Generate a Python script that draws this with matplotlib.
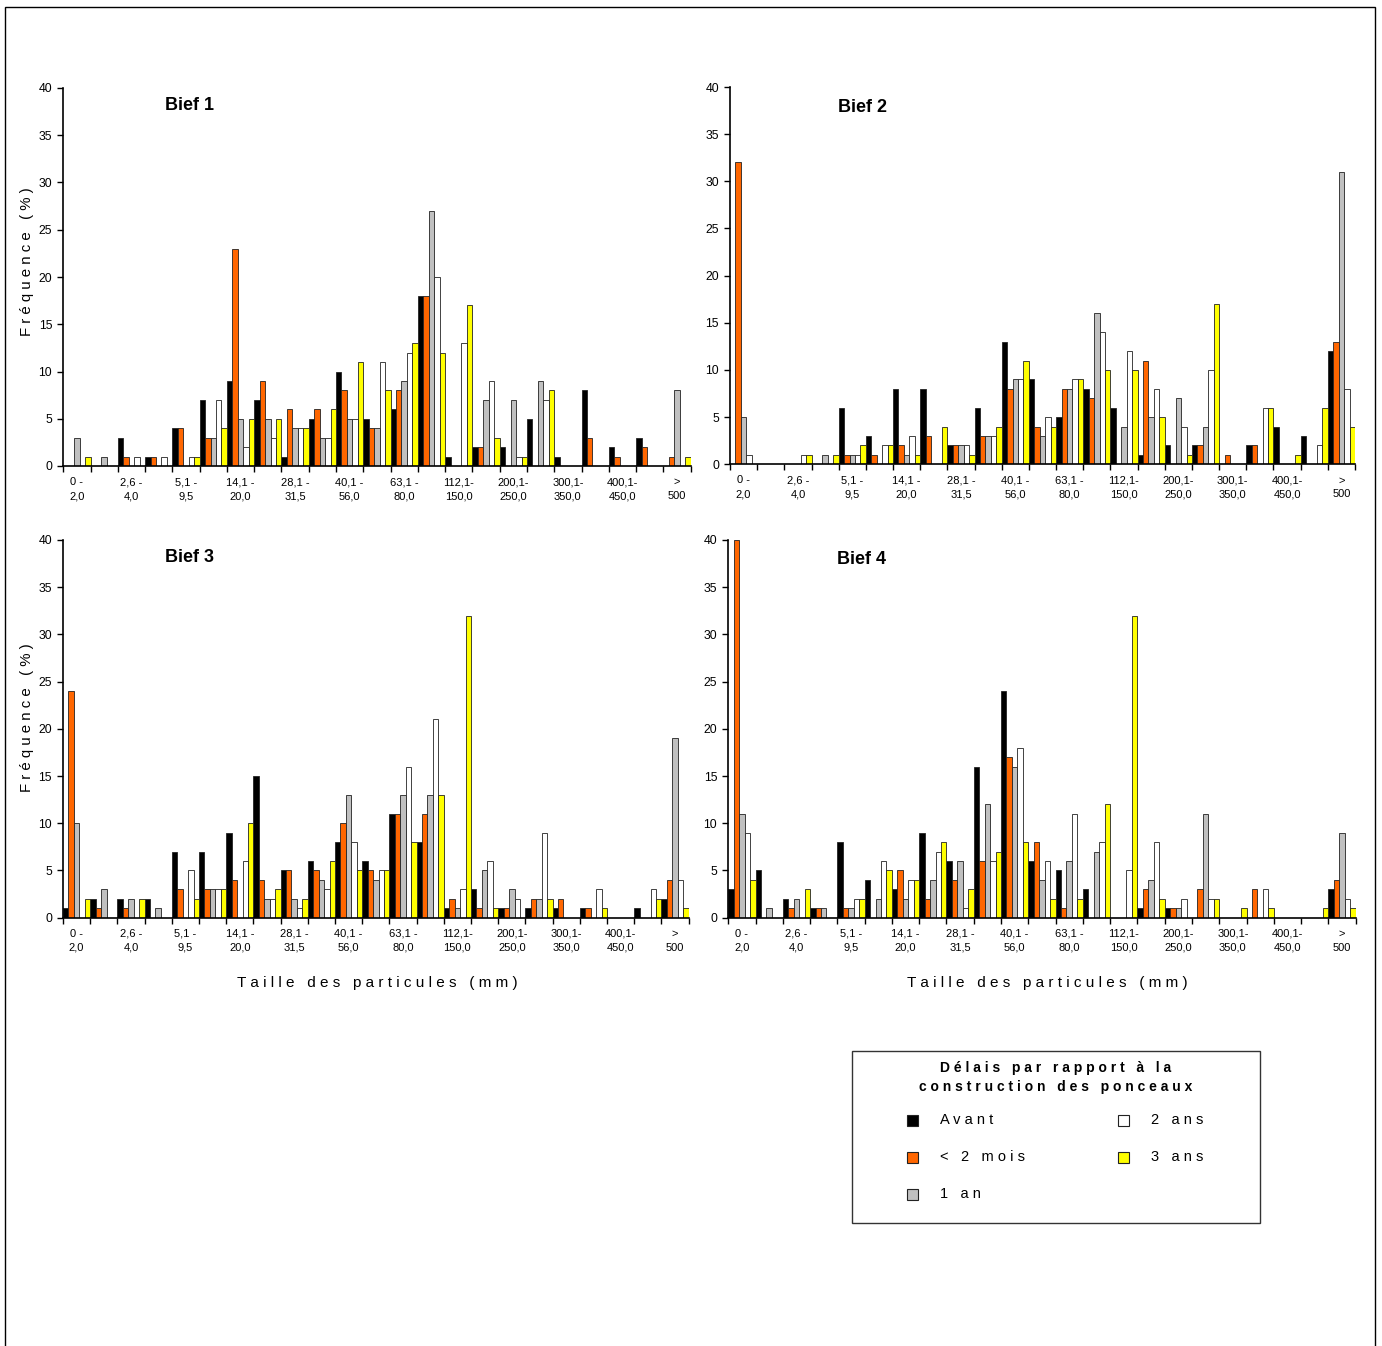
import numpy as np
import matplotlib.pyplot as plt
from matplotlib.patches import Rectangle

plt.rcParams['font.family'] = ['Liberation Sans', 'DejaVu Sans']

W, H = 1382, 1346

# classes de taille (une sur deux est etiquetee)
tick_labels = ['0 -\n2,0', '', '2,6 -\n4,0', '', '5,1 -\n9,5', '', '14,1 -\n20,0', '',
               '28,1 -\n31,5', '', '40,1 -\n56,0', '', '63,1 -\n80,0', '', '112,1-\n150,0', '',
               '200,1-\n250,0', '', '300,1-\n350,0', '', '400,1-\n450,0', '', '>\n500']

series_names = ['Avant', '< 2 mois', '1 an', '2 ans', '3 ans']
series_colors = ['#000000', '#FF6600', '#C0C0C0', '#FFFFFF', '#FFFF00']

# Bief 1
b1_avant = [0, 0, 3, 1, 4, 7, 9, 7, 1, 5, 10, 5, 6, 18, 1, 2, 2, 5, 1, 8, 2, 3, 0]
b1_2mois = [0, 0, 1, 1, 4, 3, 23, 9, 6, 6, 8, 4, 8, 18, 0, 2, 0, 0, 0, 3, 1, 2, 1]
b1_1an = [3, 1, 0, 0, 0, 3, 5, 5, 4, 3, 5, 4, 9, 27, 0, 7, 7, 9, 0, 0, 0, 0, 8]
b1_2ans = [0, 0, 1, 1, 1, 7, 2, 3, 4, 3, 5, 11, 12, 20, 13, 9, 1, 7, 0, 0, 0, 0, 0]
b1_3ans = [1, 0, 0, 0, 1, 4, 5, 5, 4, 6, 11, 8, 13, 12, 17, 3, 1, 8, 0, 0, 0, 0, 1]

# Bief 2
b2_avant = [0, 0, 0, 0, 6, 3, 8, 8, 2, 6, 13, 9, 5, 8, 6, 1, 2, 2, 0, 2, 4, 3, 12]
b2_2mois = [32, 0, 0, 0, 1, 1, 2, 3, 2, 3, 8, 4, 8, 7, 0, 11, 0, 2, 1, 2, 0, 0, 13]
b2_1an = [5, 0, 0, 1, 1, 0, 1, 0, 2, 3, 9, 3, 8, 16, 4, 5, 7, 4, 0, 0, 0, 0, 31]
b2_2ans = [1, 0, 1, 0, 1, 2, 3, 0, 2, 3, 9, 5, 9, 14, 12, 8, 4, 10, 0, 6, 0, 2, 8]
b2_3ans = [0, 0, 1, 1, 2, 2, 1, 4, 1, 4, 11, 4, 9, 10, 10, 5, 1, 17, 0, 6, 1, 6, 4]

# Bief 3
b3_avant = [1, 2, 2, 2, 7, 7, 9, 15, 5, 6, 8, 6, 11, 8, 1, 3, 1, 1, 1, 1, 0, 1, 2]
b3_2mois = [24, 1, 1, 0, 3, 3, 4, 4, 5, 5, 10, 5, 11, 11, 2, 1, 1, 2, 2, 1, 0, 0, 4]
b3_1an = [10, 3, 2, 1, 0, 3, 0, 2, 2, 4, 13, 4, 13, 13, 1, 5, 3, 2, 0, 0, 0, 0, 19]
b3_2ans = [0, 0, 0, 0, 5, 3, 6, 2, 1, 3, 8, 5, 16, 21, 3, 6, 2, 9, 0, 3, 0, 3, 4]
b3_3ans = [2, 0, 2, 0, 2, 3, 10, 3, 2, 6, 5, 5, 8, 13, 32, 1, 0, 2, 0, 1, 0, 2, 1]

# Bief 4
b4_avant = [3, 5, 2, 1, 8, 4, 3, 9, 6, 16, 24, 6, 5, 3, 0, 1, 1, 0, 0, 0, 0, 0, 3]
b4_2mois = [40, 0, 1, 1, 1, 0, 5, 2, 4, 6, 17, 8, 1, 0, 0, 3, 1, 3, 0, 3, 0, 0, 4]
b4_1an = [11, 1, 2, 1, 1, 2, 2, 4, 6, 12, 16, 4, 6, 7, 0, 4, 1, 11, 0, 0, 0, 0, 9]
b4_2ans = [9, 0, 0, 0, 2, 6, 4, 7, 1, 6, 18, 6, 11, 8, 5, 8, 2, 2, 0, 3, 0, 0, 2]
b4_3ans = [4, 0, 3, 0, 2, 5, 4, 8, 3, 7, 8, 2, 2, 12, 32, 2, 0, 2, 1, 1, 0, 1, 1]


def spaced(s):
    return ' '.join(list(s))


def fx(x):
    return x / W


def fy(y):
    return 1 - y / H


fig = plt.figure(figsize=(W / 100, H / 100), dpi=100)

# cadre exterieur
fig.add_artist(Rectangle((fx(5), -0.05), fx(1375) - fx(5), fy(7) + 0.05,
                         transform=fig.transFigure, fill=False, lw=1, ec='black'))

# axes en pixels: gauche, haut, droite, bas
panels = [
    ('Bief 1', [b1_avant, b1_2mois, b1_1an, b1_2ans, b1_3ans], (63.3, 88, 690.6, 466), (165, 106)),
    ('Bief 2', [b2_avant, b2_2mois, b2_1an, b2_2ans, b2_3ans], (730, 87, 1355, 464.3), (838, 107)),
    ('Bief 3', [b3_avant, b3_2mois, b3_1an, b3_2ans, b3_3ans], (63, 540, 688.6, 917.7), (165, 557)),
    ('Bief 4', [b4_avant, b4_2mois, b4_1an, b4_2ans, b4_3ans], (728.3, 540, 1355.6, 917.7), (837, 559)),
]

x = np.arange(len(tick_labels))
w = 0.2
for title, series, (l, t, r, b), (tx, ty) in panels:
    ax = fig.add_axes([fx(l), fy(b), (r - l) / W, (b - t) / H])
    for j, (vals, col) in enumerate(zip(series, series_colors)):
        ax.bar(x - 0.5 + w * (j + 0.5), vals, width=w, color=col,
               edgecolor='#222222', linewidth=0.6)
    ax.set_xlim(-0.5, len(tick_labels) - 0.5)
    ax.set_ylim(0, 40)
    ax.set_yticks(np.arange(0, 41, 5))
    ax.tick_params(axis='y', labelsize=8.8, length=4, width=1, pad=4)
    ax.set_xticks(x[::2])
    ax.set_xticklabels(tick_labels[::2], fontsize=8, linespacing=1.5)
    ax.set_xticks(np.arange(-0.5, len(tick_labels), 1), minor=True)
    ax.tick_params(axis='x', which='major', length=0, pad=8)
    ax.tick_params(axis='x', which='minor', length=4, width=1)
    for s in ['top', 'right']:
        ax.spines[s].set_visible(False)
    for s in ['left', 'bottom']:
        ax.spines[s].set_linewidth(1.2)
    fig.text(fx(tx), fy(ty), title, fontsize=13, fontweight='bold', ha='left', va='center')

# titres des axes
for yc in [262, 718]:
    fig.text(fx(27), fy(yc), spaced('Fréquence (%)'), rotation=90,
             ha='center', va='center', fontsize=10.8)
for xc in [377, 1047]:
    fig.text(fx(xc), fy(983), spaced('Taille des particules (mm)'),
             ha='center', va='center', fontsize=11)

# legende
fig.add_artist(Rectangle((fx(852), fy(1223)), fx(1260) - fx(852), fy(1051) - fy(1223),
                         transform=fig.transFigure, fill=False, lw=1, ec='#333333'))
fig.text(fx(1056), fy(1068), spaced('Délais par rapport à la'), ha='center', va='center',
         fontsize=10, fontweight='bold')
fig.text(fx(1056), fy(1087), spaced('construction des ponceaux'), ha='center', va='center',
         fontsize=10, fontweight='bold')
leg_pos = [(912, 1120), (912, 1157), (912, 1194), (1123, 1120), (1123, 1157)]
for name, col, (px, py) in zip(series_names, series_colors, leg_pos):
    fig.add_artist(Rectangle((fx(px - 5.5), fy(py + 5.5)), 11 / W, 11 / H,
                             transform=fig.transFigure, fc=col, ec='#222222', lw=0.8))
    fig.text(fx(px + 28), fy(py), spaced(name), ha='left', va='center', fontsize=10.5)

fig.savefig('out.png', dpi=100)
